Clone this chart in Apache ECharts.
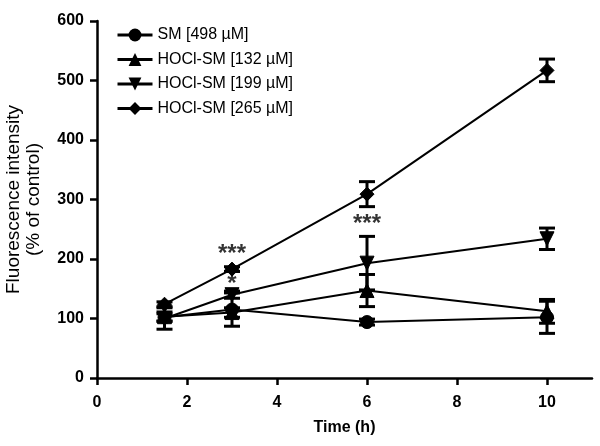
<!DOCTYPE html>
<html>
<head>
<meta charset="utf-8">
<script src="https://cdn.jsdelivr.net/npm/echarts@6/dist/echarts.min.js"></script>
<style>html,body{margin:0;padding:0;background:#fff}#c{width:600px;height:446px}</style>
</head>
<body>
<div id="c"></div>
<script>
var times = [1.5, 3, 6, 10];
var names = ['SM [498 µM]', 'HOCl-SM [132 µM]', 'HOCl-SM [199 µM]', 'HOCl-SM [265 µM]'];
var sm = [102, 115, 94, 102];
var smErr = [6, 28, 5, 27];
var h132 = [103, 110, 147, 112];
var h132Err = [8, 8, 27, 20];
var h199 = [100, 140, 193, 234];
var h199Err = [18, 6, 45, 18];
var h265 = [124, 183, 309, 517];
var h265Err = [4, 4, 21, 19];
var xTicks = [0, 2, 4, 6, 8, 10];
var yTicks = [0, 100, 200, 300, 400, 500, 600];
var starX = [3, 3, 6];
var starY = [207, 157, 258];
var starText = ['***', '*', '***'];

var FONT = "'Liberation Sans', Arial, sans-serif";
var allMeans = [sm, h132, h199, h265];
var allErrs = [smErr, h132Err, h199Err, h265Err];
var symbols = ['circle', 'triangle', 'triangle', 'diamond'];
var rotates = [0, 0, 180, 0];
var sizes = [13, 14, 14, 14];

var series = [];
var errData = [];
allMeans.forEach(function (m, s) {
  m.forEach(function (v, i) {
    errData.push([times[i], v - allErrs[s][i], v + allErrs[s][i]]);
  });
});
series.push({
  type: 'custom',
  silent: true,
  z: 1,
  data: errData,
  renderItem: function (params, api) {
    var x = api.value(0);
    var lo = api.coord([x, api.value(1)]);
    var hi = api.coord([x, api.value(2)]);
    var w = 8;
    var st = {stroke: '#000', lineWidth: 3};
    return {
      type: 'group',
      children: [
        {type: 'line', shape: {x1: lo[0], y1: lo[1], x2: hi[0], y2: hi[1]}, style: st},
        {type: 'line', shape: {x1: lo[0] - w, y1: lo[1], x2: lo[0] + w, y2: lo[1]}, style: st},
        {type: 'line', shape: {x1: hi[0] - w, y1: hi[1], x2: hi[0] + w, y2: hi[1]}, style: st}
      ]
    };
  }
});
allMeans.forEach(function (m, s) {
  series.push({
    name: names[s],
    type: 'line',
    z: 2,
    data: m.map(function (v, i) { return [times[i], v]; }),
    symbol: symbols[s],
    symbolRotate: rotates[s],
    symbolSize: sizes[s],
    showAllSymbol: true,
    lineStyle: {color: '#000', width: 2},
    itemStyle: {color: '#000', borderColor: '#000'},
    emphasis: {disabled: true},
    animation: false
  });
});
series.push({
  type: 'scatter',
  z: 3,
  symbolSize: 0,
  silent: true,
  data: starX.map(function (x, i) { return [x, starY[i], starText[i]]; }),
  label: {
    show: true,
    position: 'inside',
    formatter: function (p) { return p.value[2]; },
    color: '#000',
    fontFamily: FONT,
    fontSize: 24,
    fontWeight: 'bold'
  }
});

var chart = echarts.init(document.getElementById('c'), null, {renderer: 'canvas'});
chart.setOption({
  animation: false,
  backgroundColor: '#fff',
  grid: {left: 97, right: 8, top: 21, bottom: 68, containLabel: false, outerBoundsMode: 'none'},
  legend: {
    orient: 'vertical',
    left: 111,
    top: 22,
    itemWidth: 35,
    itemHeight: 16,
    itemGap: 8.5,
    data: names,
    textStyle: {fontFamily: FONT, fontSize: 16, color: '#000', padding: [0, 0, 0, 0]},
    lineStyle: {width: 3}
  },
  xAxis: {
    type: 'value',
    min: 0,
    max: 11,
    interval: 2,
    name: 'Time (h)',
    nameLocation: 'middle',
    nameGap: 42,
    nameTextStyle: {fontFamily: FONT, fontSize: 16, fontWeight: 'bold', color: '#000'},
    axisLine: {show: true, lineStyle: {color: '#000', width: 2.5}},
    axisTick: {show: true, inside: false, length: 7, lineStyle: {color: '#000', width: 2.5}},
    axisLabel: {fontFamily: FONT, fontSize: 16, fontWeight: 'bold', color: '#000', margin: 17, showMaxLabel: false},
    splitLine: {show: false}
  },
  yAxis: {
    type: 'value',
    min: 0,
    max: 600,
    interval: 100,
    name: 'Fluorescence intensity\n(% of control)',
    nameLocation: 'middle',
    nameRotate: 90,
    nameGap: 53,
    nameTextStyle: {fontFamily: FONT, fontSize: 19, color: '#000', lineHeight: 20},
    axisLine: {show: true, lineStyle: {color: '#000', width: 2.5}},
    axisTick: {show: true, inside: false, length: 7, lineStyle: {color: '#000', width: 2.5}},
    axisLabel: {fontFamily: FONT, fontSize: 16, fontWeight: 'bold', color: '#000', margin: 13},
    splitLine: {show: false}
  },
  series: series
});
</script>
</body>
</html>
